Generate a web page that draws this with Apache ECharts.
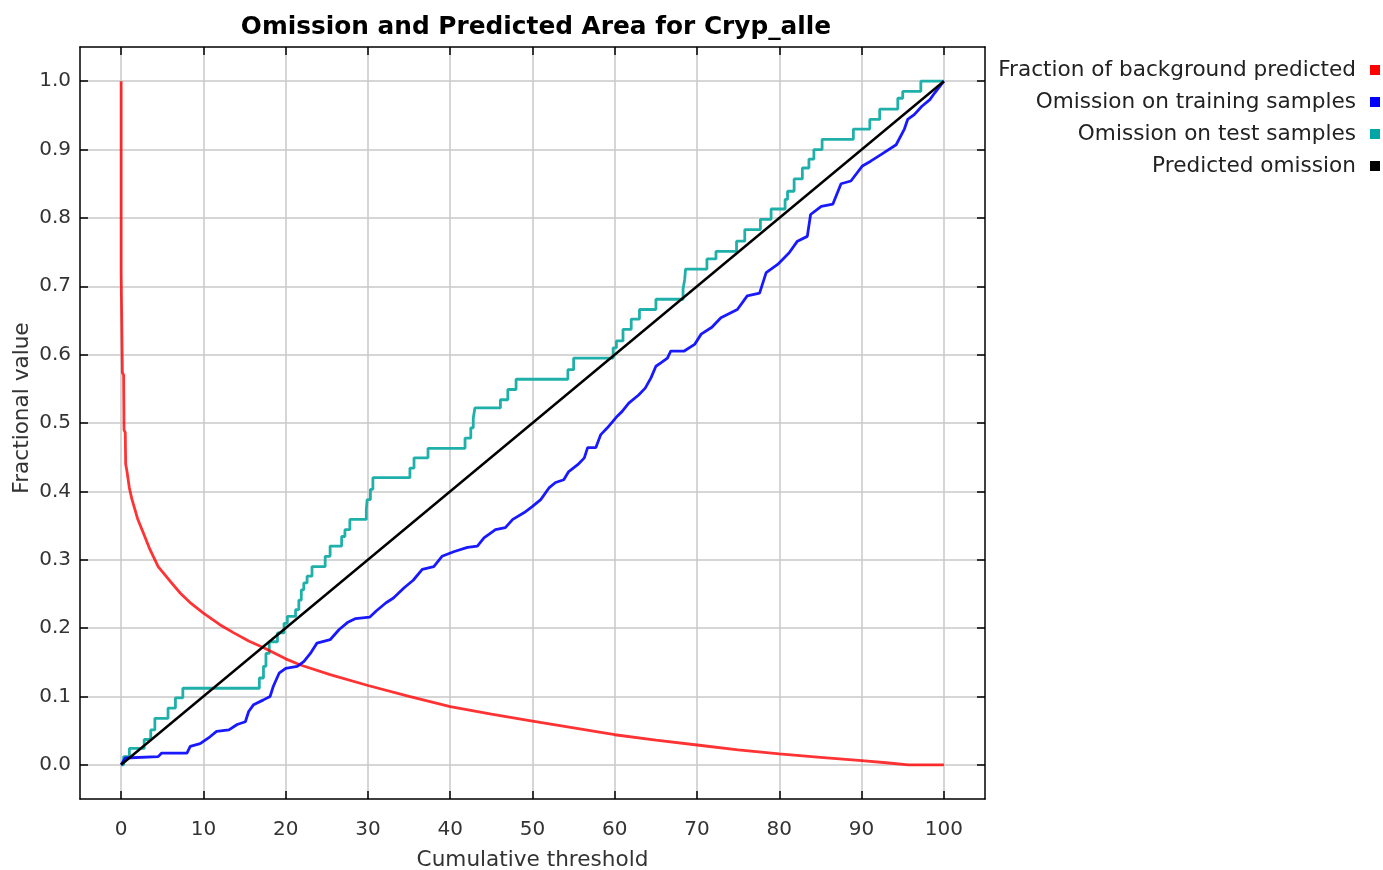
<!DOCTYPE html>
<html>
<head>
<meta charset="utf-8">
<title>Omission and Predicted Area for Cryp_alle</title>
<script src="https://cdn.jsdelivr.net/npm/echarts@6/dist/echarts.min.js"></script>
<style>
  html, body { margin: 0; padding: 0; background: #ffffff; }
  #chart { width: 1383px; height: 870px; }
</style>
</head>
<body>
<div id="chart"></div>
<script>
// Tick positions on both axes
const xTicks = [0, 10, 20, 30, 40, 50, 60, 70, 80, 90, 100];
const yTicks = [0, 0.1, 0.2, 0.3, 0.4, 0.5, 0.6, 0.7, 0.8, 0.9, 1.0];

// Fraction of background predicted, [cumulative threshold, fraction]
const backgroundFraction = [
  [0, 1.0], [0, 0.72], [0.1, 0.72], [0.15, 0.574], [0.3, 0.57], [0.35, 0.49],
  [0.5, 0.486], [0.55, 0.44], [0.7, 0.43], [1.0, 0.405], [1.3, 0.389],
  [2.0, 0.36], [2.7, 0.339], [3.5, 0.315], [4.5, 0.29], [6.0, 0.268],
  [7.2, 0.251], [8.5, 0.236], [10, 0.222], [12, 0.205], [13.7, 0.193],
  [15.5, 0.181], [17.4, 0.171], [20, 0.155], [21.8, 0.146], [25.4, 0.132],
  [30, 0.116], [35, 0.10], [40, 0.085], [45, 0.074], [50, 0.064],
  [55, 0.054], [58.5, 0.047], [60, 0.044], [65, 0.036], [70, 0.029],
  [75, 0.022], [80, 0.016], [85, 0.011], [90, 0.006], [93, 0.003],
  [95.7, 0.0], [100, 0.0]
];

// Omission on training samples
const trainingOmission = [
  [0, 0], [0.5, 0.01], [4.5, 0.012], [4.9, 0.017], [8.0, 0.017], [8.4, 0.027],
  [9.6, 0.031], [10.8, 0.041], [11.6, 0.049], [13.1, 0.051], [14.1, 0.059],
  [15.1, 0.063], [15.5, 0.078], [16.1, 0.088], [17.3, 0.095], [18.1, 0.1],
  [18.5, 0.115], [19.2, 0.134], [20.0, 0.141], [21.4, 0.144], [22.2, 0.151],
  [23.0, 0.163], [23.8, 0.178], [25.4, 0.183], [26.5, 0.198], [27.5, 0.208],
  [28.5, 0.214], [30.2, 0.216], [31.0, 0.225], [32.2, 0.237], [33.1, 0.244],
  [34.4, 0.259], [35.5, 0.27], [36.6, 0.286], [38.0, 0.29], [39.0, 0.305],
  [40.5, 0.312], [42.1, 0.318], [43.3, 0.32], [44.1, 0.332], [45.5, 0.344],
  [46.7, 0.347], [47.6, 0.359], [49.0, 0.369], [50.0, 0.378], [51.0, 0.388],
  [52.0, 0.405], [52.8, 0.413], [53.8, 0.417], [54.4, 0.429], [55.5, 0.439],
  [56.3, 0.449], [56.7, 0.464], [57.7, 0.464], [58.3, 0.483], [59.1, 0.493],
  [60.3, 0.51], [60.9, 0.517], [61.7, 0.529], [62.9, 0.541], [63.7, 0.551],
  [64.4, 0.566], [65.0, 0.583], [65.6, 0.588], [66.4, 0.595], [66.8, 0.605],
  [68.4, 0.605], [69.7, 0.615], [70.5, 0.63], [71.8, 0.64], [72.9, 0.654],
  [74.9, 0.666], [76.1, 0.686], [77.6, 0.69], [78.4, 0.72], [79.8, 0.732],
  [81.2, 0.749], [82.2, 0.766], [83.4, 0.773], [83.8, 0.805], [85.1, 0.817],
  [86.5, 0.82], [87.5, 0.85], [88.7, 0.854], [90.1, 0.876], [91.1, 0.883],
  [92.4, 0.893], [94.2, 0.907], [95.2, 0.93], [95.6, 0.944], [96.4, 0.951],
  [97.3, 0.963], [98.3, 0.973], [98.9, 0.983], [100, 1.0]
];

// Omission on test samples (value after each step)
const testOmission = [
  [0, 0], [0.3, 0.012], [1.0, 0.024], [2.8, 0.037], [3.6, 0.051], [4.1, 0.068],
  [5.7, 0.083], [6.6, 0.098], [7.5, 0.112], [16.8, 0.127], [17.3, 0.144],
  [17.6, 0.163], [18.0, 0.18], [19.0, 0.193], [19.8, 0.207], [20.2, 0.217],
  [21.2, 0.227], [21.6, 0.241], [21.9, 0.256], [22.2, 0.266], [22.6, 0.276],
  [23.2, 0.29], [24.8, 0.305], [25.4, 0.32], [26.8, 0.334], [27.2, 0.344],
  [27.8, 0.359], [29.8, 0.373], [29.9, 0.388], [30.3, 0.403], [30.6, 0.42],
  [35.1, 0.434], [35.6, 0.449], [37.3, 0.463], [41.8, 0.478], [42.5, 0.493],
  [42.8, 0.507], [43.0, 0.522], [46.1, 0.534], [47.0, 0.549], [48.0, 0.564],
  [54.3, 0.578], [55.0, 0.595], [59.8, 0.61], [60.2, 0.62], [61.0, 0.637],
  [62.0, 0.652], [63.0, 0.666], [65.0, 0.681], [68.3, 0.696], [68.5, 0.71],
  [68.6, 0.725], [71.2, 0.74], [72.3, 0.751], [74.8, 0.766], [75.8, 0.783],
  [77.7, 0.798], [79.0, 0.813], [80.7, 0.827], [81.0, 0.839], [81.8, 0.857],
  [82.8, 0.873], [83.6, 0.886], [84.2, 0.9], [85.2, 0.915], [89.0, 0.93],
  [91.0, 0.944], [92.2, 0.959], [94.4, 0.975], [95.0, 0.985], [97.2, 1.0],
  [100, 1.0]
];

// Predicted omission (the diagonal)
const predictedOmission = [[0, 0], [100, 1]];

const seriesNames = [
  'Fraction of background predicted',
  'Omission on training samples',
  'Omission on test samples',
  'Predicted omission'
];
const seriesColors = ['#ff0000', '#0000ff', '#00a6a6', '#000000'];

const FONT = 'DejaVu Sans';
const gridColor = '#c8c8c8';

const chart = echarts.init(document.getElementById('chart'), null, { renderer: 'canvas' });

const hiddenAxisBits = {
  axisLabel: { show: false },
  splitLine: { show: false }
};

chart.setOption({
  animation: false,
  backgroundColor: '#ffffff',
  title: {
    text: 'Omission and Predicted Area for Cryp_alle',
    left: 531,
    textAlign: 'center',
    top: 10,
    textStyle: { fontFamily: FONT, fontSize: 24.8, fontWeight: 'bold', color: '#000000' }
  },
  legend: {
    orient: 'vertical',
    right: 3,
    top: 59,
    padding: 0,
    align: 'right',
    icon: 'rect',
    itemWidth: 10,
    itemHeight: 10,
    itemGap: 10,
    selectedMode: false,
    data: seriesNames.map((n, i) => ({ name: n, itemStyle: { color: seriesColors[i] } })),
    textStyle: { fontFamily: FONT, fontSize: 21.6, color: '#222222', lineHeight: 22, padding: [0, 9, 0, 0] }
  },
  grid: { left: 80, right: 398, top: 47, bottom: 71, containLabel: false, outerBoundsMode: 'none' },
  xAxis: [
    {
      type: 'value', min: -5, max: 105, position: 'bottom',
      name: 'Cumulative threshold', nameLocation: 'middle', nameGap: 50, nameMoveOverlap: false,
      nameTextStyle: { fontFamily: FONT, fontSize: 21.6, color: '#333333' },
      axisLine: { show: true, onZero: false, lineStyle: { color: '#000000', width: 1.5 } },
      axisTick: { show: true, inside: true, length: 8, customValues: xTicks, lineStyle: { color: '#000000', width: 1.5 } },
      axisLabel: { customValues: xTicks, margin: 21, fontFamily: FONT, fontSize: 20, color: '#333333' },
      splitLine: { show: true, lineStyle: { color: gridColor, width: 1.5 } }
    },
    {
      type: 'value', min: -5, max: 105, position: 'top',
      axisLine: { show: true, onZero: false, lineStyle: { color: '#000000', width: 1.5 } },
      axisTick: { show: true, inside: true, length: 8, customValues: xTicks, lineStyle: { color: '#000000', width: 1.5 } },
      ...hiddenAxisBits
    }
  ],
  yAxis: [
    {
      type: 'value', min: -0.05, max: 1.05, position: 'left',
      name: 'Fractional value', nameLocation: 'middle', nameGap: 47, nameMoveOverlap: false,
      nameTextStyle: { fontFamily: FONT, fontSize: 21.6, color: '#333333', padding: [0, 0, 0, 30] },
      axisLine: { show: true, onZero: false, lineStyle: { color: '#000000', width: 1.5 } },
      axisTick: { show: true, inside: true, length: 8, customValues: yTicks, lineStyle: { color: '#000000', width: 1.5 } },
      axisLabel: { customValues: yTicks, margin: 9, fontFamily: FONT, fontSize: 20, color: '#333333',
                   formatter: v => v.toFixed(1) },
      splitLine: { show: true, lineStyle: { color: gridColor, width: 1.5 } }
    },
    {
      type: 'value', min: -0.05, max: 1.05, position: 'right',
      axisLine: { show: true, onZero: false, lineStyle: { color: '#000000', width: 1.5 } },
      axisTick: { show: true, inside: true, length: 8, customValues: yTicks, lineStyle: { color: '#000000', width: 1.5 } },
      ...hiddenAxisBits
    }
  ],
  series: [
    {
      name: seriesNames[0], type: 'line', data: backgroundFraction, showSymbol: false,
      lineStyle: { color: seriesColors[0], width: 2.8, opacity: 0.8 }, itemStyle: { color: seriesColors[0] }, z: 3
    },
    {
      name: seriesNames[1], type: 'line', data: trainingOmission, showSymbol: false,
      lineStyle: { color: seriesColors[1], width: 2.8, opacity: 0.9 }, itemStyle: { color: seriesColors[1] }, z: 4
    },
    {
      name: seriesNames[2], type: 'line', step: 'end', data: testOmission, showSymbol: false,
      lineStyle: { color: '#20b0aa', width: 2.8 }, itemStyle: { color: seriesColors[2] }, z: 2
    },
    {
      name: seriesNames[3], type: 'line', data: predictedOmission, showSymbol: false,
      lineStyle: { color: seriesColors[3], width: 2.5 }, itemStyle: { color: seriesColors[3] }, z: 5
    }
  ]
});
</script>
</body>
</html>
